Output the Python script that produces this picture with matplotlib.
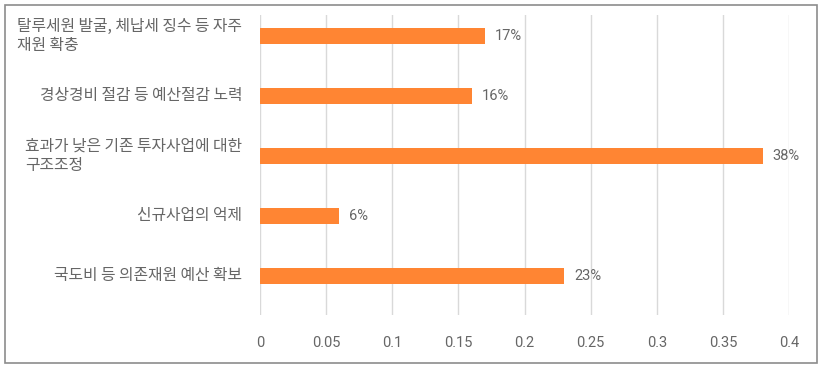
import matplotlib
matplotlib.use("Agg")
import matplotlib.pyplot as plt
from matplotlib.patches import Rectangle

plt.rcParams['font.family'] = ['Noto Sans CJK KR', 'DejaVu Sans']

categories = ["탈루세원 발굴, 체납세 징수 등 자주\n재원 확충",
              "경상경비 절감 등 예산절감 노력",
              "효과가 낮은 기존 투자사업에 대한\n구조조정",
              "신규사업의 억제",
              "국도비 등 의존재원 예산 확보"]
values = [0.17, 0.16, 0.38, 0.06, 0.23]
value_labels = ["17%", "16%", "38%", "6%", "23%"]
xticks = [0, 0.05, 0.1, 0.15, 0.2, 0.25, 0.3, 0.35, 0.4]
xtick_labels = ["0", "0.05", "0.1", "0.15", "0.2", "0.25", "0.3", "0.35", "0.4"]

W, H = 822, 369
fig = plt.figure(figsize=(W/100, H/100), dpi=100)
fig.patches.append(Rectangle((5/W, 1 - 363/H), 812/W, 358/H, transform=fig.transFigure,
                             fill=False, edgecolor='#8c8c8c', linewidth=1.2))
left, right = 260/W, 789/W
top, bottom = 1 - 15/H, 1 - 315/H
ax = fig.add_axes([left, bottom, right - left, top - bottom])

ypos = list(range(len(categories)))
ax.barh(ypos, values, height=0.27, color='#FF8533', zorder=3)
ax.set_xlim(0, 0.4)
ax.set_ylim(4.65, -0.35)
ax.set_xticks(xticks)
ax.set_xticklabels(xtick_labels, family=['Roboto', 'DejaVu Sans'])
ax.set_yticks([])
for s in ax.spines.values():
    s.set_visible(False)
ax.grid(axis='x', color='#D9D9D9', linewidth=1, zorder=0)
ax.tick_params(axis='x', length=0, pad=15, labelsize=10.5, labelcolor='#666666')

for y, v, lab in zip(ypos, values, value_labels):
    ax.annotate(lab, (v, y), xytext=(10, 0), textcoords='offset pixels',
                va='center', ha='left', fontsize=10.5, color='#666666',
                family=['Roboto', 'DejaVu Sans'])

for y, c in zip(ypos, categories):
    ax.annotate(c, (0, y), xycoords=('axes fraction', 'data'), xytext=(-18, 0),
                textcoords='offset pixels', ha='right', va='center',
                multialignment='left', fontsize=11.4, color='#666666', linespacing=1.22)

fig.savefig("out.png", dpi=100)
